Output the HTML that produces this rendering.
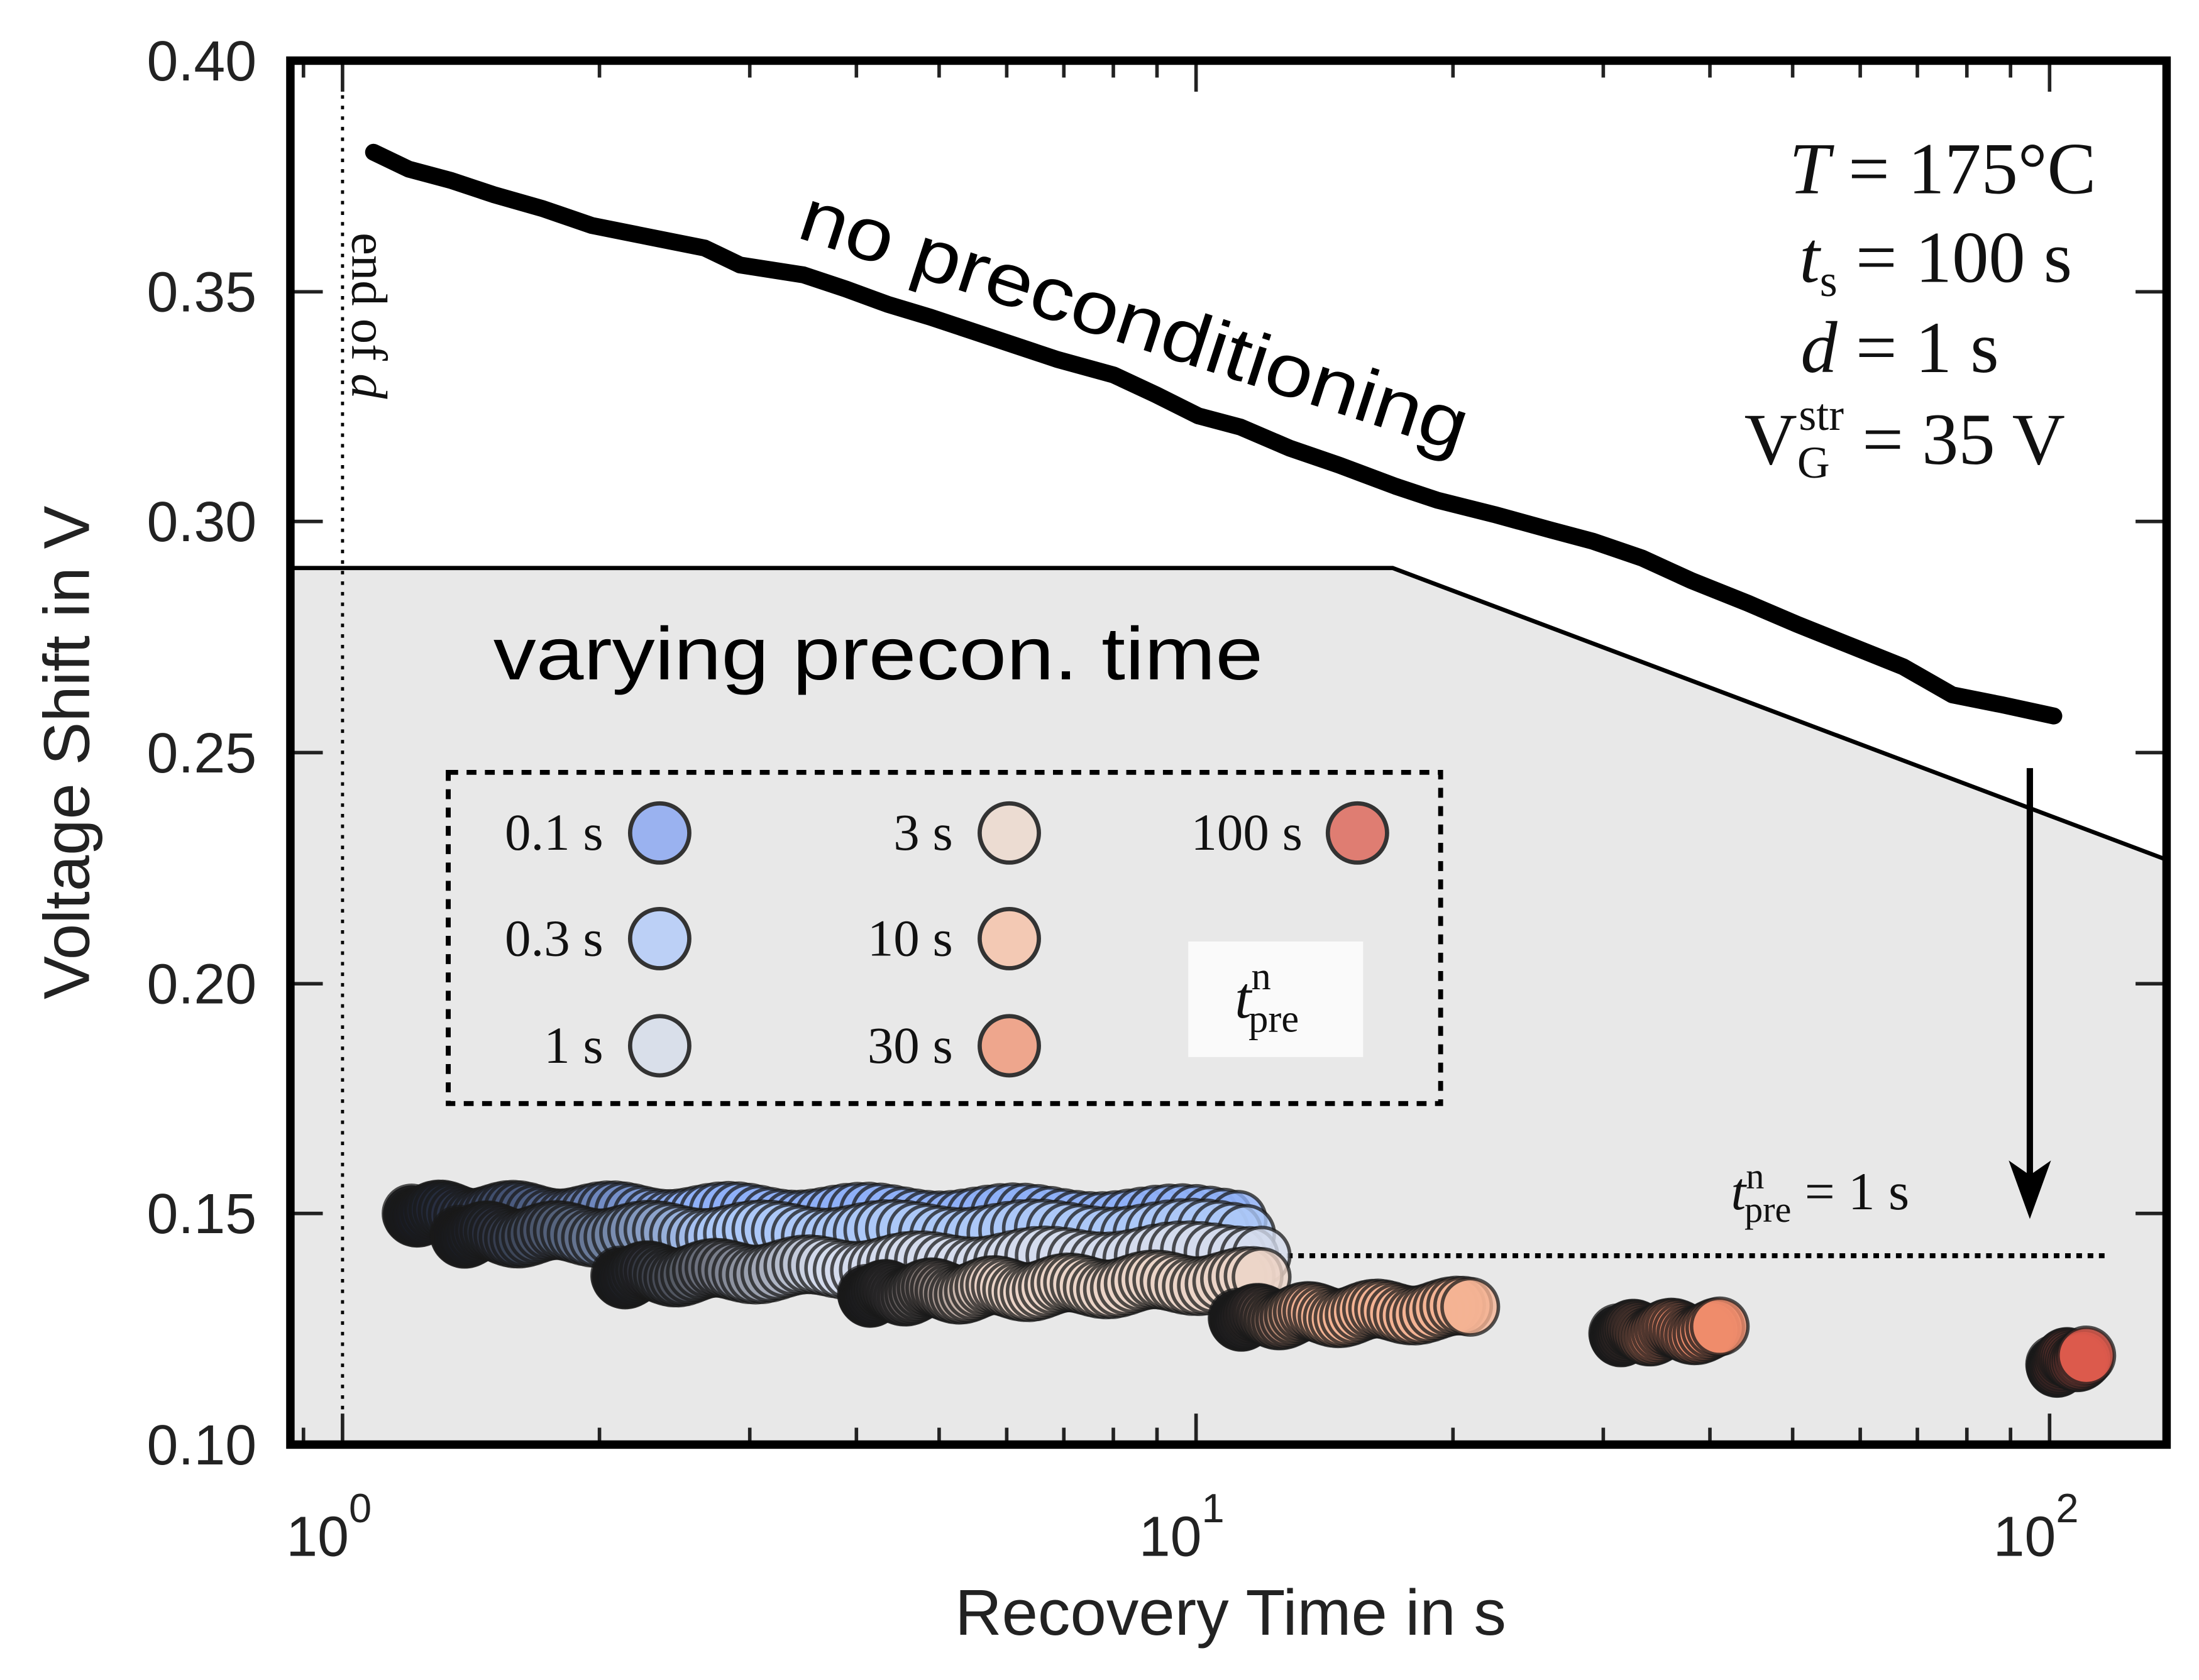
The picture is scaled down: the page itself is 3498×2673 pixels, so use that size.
<!DOCTYPE html>
<html><head><meta charset="utf-8"><style>
html,body{margin:0;padding:0;background:#fff}
svg{display:block}
.sans{font-family:"Liberation Sans",Arial,sans-serif;fill:#222}
.serif{font-family:"Liberation Serif","DejaVu Serif",serif;fill:#111}
</style></head><body>
<svg id="s" width="3498" height="2673" viewBox="0 0 1560 1192" xmlns="http://www.w3.org/2000/svg">
<rect x="0" y="0" width="1560" height="1192" fill="#fff"/>
<polygon points="207,403 988,403 1537,610 1537,1025 207,1025" fill="#e8e8e8" stroke="#000" stroke-width="3"/>
<line x1="243" y1="45" x2="243" y2="1023" stroke="#000" stroke-width="2.2" stroke-dasharray="2.5,5"/>
<g id="ticks" stroke="#222" stroke-width="2.5"></g>
<path fill="none" stroke="#000" stroke-width="12" stroke-linejoin="round" stroke-linecap="round" d="M265,108 L290,120 L320,128 L350,138 L385,148 L420,160 L460,168 L500,176 L525,188 L570,195 L600,205 L630,216 L660,225 L690,235 L720,245 L750,255 L790,266 L820,280 L850,295 L880,303 L915,318 L950,330 L990,345 L1020,355 L1060,365 L1100,376 L1130,384 L1165,396 L1200,412 L1240,428 L1275,443 L1310,457 L1350,473 L1385,493 L1420,500 L1457,508"/>
<text class="sans" style="fill:#000" font-size="53" transform="translate(564,168) rotate(18)" textLength="495" lengthAdjust="spacingAndGlyphs">no preconditioning</text>
<text class="sans" style="fill:#000" font-size="53" x="350" y="482" textLength="546" lengthAdjust="spacingAndGlyphs">varying precon. time</text>
<text class="serif" font-size="36" transform="translate(250,165) rotate(90)">end of <tspan font-style="italic">d</tspan></text>
<g class="serif" font-size="52" text-anchor="end">
<text x="1487" y="137"><tspan font-style="italic">T</tspan> = 175°C</text>
<text x="1470" y="200"><tspan font-style="italic">t</tspan><tspan font-size="32" dy="10">s</tspan><tspan dy="-10"> = 100 s</tspan></text>
<text x="1418" y="264"><tspan font-style="italic">d</tspan> = 1 s</text>
<text x="1465" y="329">V<tspan font-size="32" dy="10">G</tspan><tspan font-size="32" dx="-22" dy="-34">str</tspan><tspan dy="24"> = 35 V</tspan></text>
</g>
<rect x="318" y="548" width="704" height="235" fill="none" stroke="#000" stroke-width="3.5" stroke-dasharray="7,6"/>
<rect x="843" y="668" width="124" height="82" fill="#fafafa"/>
<text class="serif" font-size="42" x="876" y="722"><tspan font-style="italic">t</tspan><tspan font-size="28" dy="-20">n</tspan><tspan font-size="28" dx="-16" dy="30">pre</tspan></text>
<g class="serif" font-size="37" text-anchor="end">
<text x="428" y="603">0.1 s</text><text x="428" y="678">0.3 s</text><text x="428" y="754">1 s</text>
<text x="676" y="603">3 s</text><text x="676" y="678">10 s</text><text x="676" y="754">30 s</text>
<text x="924" y="603">100 s</text>
</g>
<g stroke="#333" stroke-width="3">
<circle cx="468" cy="591" r="21" fill="#9ab2f0"/><circle cx="468" cy="666" r="21" fill="#bcd0f6"/><circle cx="468" cy="742" r="21" fill="#d9dfea"/>
<circle cx="716" cy="591" r="21" fill="#ecdcd2"/><circle cx="716" cy="666" r="21" fill="#f3c9b4"/><circle cx="716" cy="742" r="21" fill="#eea68d"/>
<circle cx="963" cy="591" r="21" fill="#df7d72"/>
</g>
<line x1="1440" y1="545" x2="1440" y2="850" stroke="#000" stroke-width="4.5"/>
<polygon points="1427,826 1440,862 1453,826 1440,835" fill="#000" stroke="#000" stroke-width="2"/>
<text class="serif" font-size="38" x="1228" y="858"><tspan font-style="italic">t</tspan><tspan font-size="26" dy="-15">n</tspan><tspan font-size="26" dx="-14" dy="24">pre</tspan><tspan dy="-9"> = 1 s</tspan></text>
<line x1="905" y1="891" x2="1497" y2="891" stroke="#000" stroke-width="3.5" stroke-dasharray="4,4"/>
<g id="pts"></g>
<rect x="206" y="43" width="1331" height="982" fill="none" stroke="#000" stroke-width="6"/>
<g class="sans" font-size="40" text-anchor="end">
<text x="182" y="57">0.40</text><text x="182" y="221">0.35</text><text x="182" y="384">0.30</text><text x="182" y="548">0.25</text><text x="182" y="712">0.20</text><text x="182" y="875">0.15</text><text x="182" y="1039">0.10</text>
</g>
<g class="sans" font-size="40">
<text x="203" y="1104">10<tspan font-size="29" dy="-24">0</tspan></text>
<text x="808" y="1104">10<tspan font-size="29" dy="-24">1</tspan></text>
<text x="1414" y="1104">10<tspan font-size="29" dy="-24">2</tspan></text>
</g>
<text class="sans" font-size="46" x="873" y="1160" text-anchor="middle">Recovery Time in s</text>
<text class="sans" font-size="46" transform="translate(63,534) rotate(-90)" text-anchor="middle">Voltage Shift in V</text>
</svg>
<script>
var NS="http://www.w3.org/2000/svg";
var tk=document.getElementById("ticks");
function ln(a,b,c,d){var l=document.createElementNS(NS,"line");l.setAttribute("x1",a);l.setAttribute("y1",b);l.setAttribute("x2",c);l.setAttribute("y2",d);tk.appendChild(l);}
[43,207,370,534,698,861,1025].forEach(function(y){ln(207,y,229,y);ln(1515,y,1537,y);});
for(var e=-1;e<3;e++)for(var m=1;m<10;m++){var x=243+605.5*(e+Math.log10(m));if(x<208||x>1536)continue;var L=m==1?22:12;ln(x,1025,x,1025-L);ln(x,43,x,43+L);}
var g=document.getElementById("pts");
function hex(h){return [parseInt(h.substr(1,2),16),parseInt(h.substr(3,2),16),parseInt(h.substr(5,2),16)];}
function cl(x0,x1,y0,y1,col,n){var c=hex(col),dk=[20,22,30];
for(var i=0;i<n;i++){var f=i/(n-1);var fx=Math.pow(f,1.5);var x=x0+(x1-x0)*fx;var y=y0+(y1-y0)*fx+3*Math.sin(i*0.5);
var k=Math.min(1,fx*3);var r=dk.map(function(d,j){return Math.round(d+(c[j]-d)*k);});
var ci=document.createElementNS(NS,"circle");ci.setAttribute("cx",x);ci.setAttribute("cy",y);ci.setAttribute("r",20);
ci.setAttribute("fill","rgb("+r.join(",")+")");ci.setAttribute("fill-opacity","0.8");ci.setAttribute("stroke","#1a1a1a");ci.setAttribute("stroke-opacity","0.75");ci.setAttribute("stroke-width","2.5");g.appendChild(ci);}}
cl(292,878,861,864,"#8fb0f7",90);
cl(326,884,876,874,"#adc8f8",90);
cl(440,895,905,888,"#d5dced",80);
cl(615,895,918,908,"#ecd5c8",75);
cl(878,1043,935,929,"#f4b394",50);
cl(1148,1220,946,944,"#ef8c6c",35);
cl(1458,1480,968,962,"#dc5a4c",20);
</script>
</body></html>
